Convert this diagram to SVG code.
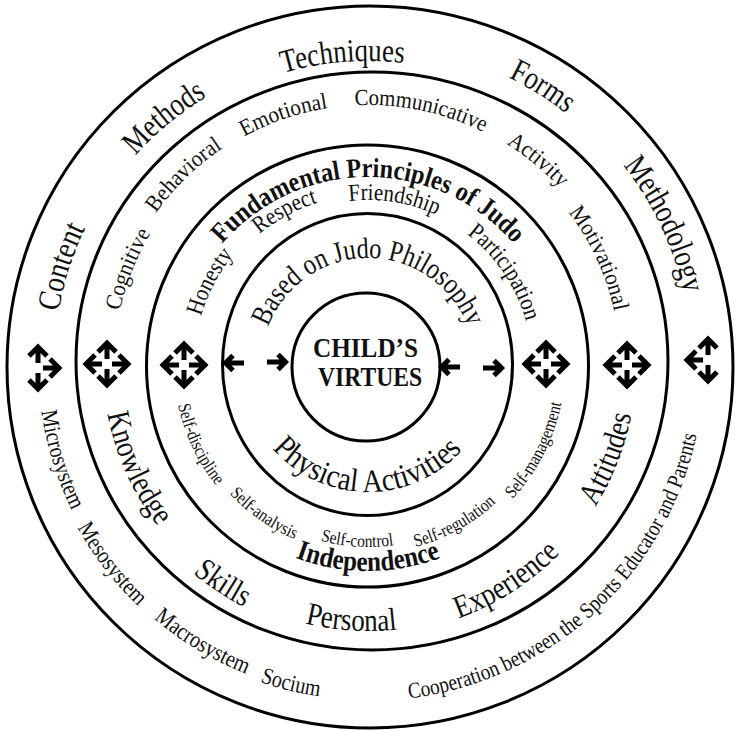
<svg xmlns="http://www.w3.org/2000/svg" xmlns:xlink="http://www.w3.org/1999/xlink" width="737" height="731" viewBox="0 0 737 731">
<style>
.ring{fill:none;stroke:#000;stroke-width:3}
.t{font-family:"Liberation Serif","Times New Roman",serif;fill:#111}
.b{font-weight:bold}
.f1{font-size:32.5px}
.f1b{font-size:23.5px}
.f2t{font-size:23px}
.f2b{font-size:32px}
.f3{font-size:24px}
.f3s{font-size:18px}
.f3b{font-size:27.5px}
.f4t{font-size:29.5px}
.f4b{font-size:32.5px}
.arr{fill:none;stroke:#000;stroke-width:5;stroke-linejoin:miter;stroke-linecap:butt}
</style>
<defs>
<path id="a-up" d="M-9,-12 L0,-21 L9,-12 M0,-20 V-5"/>
<g id="arrow4" class="arr">
<use xlink:href="#a-up"/>
<use xlink:href="#a-up" transform="rotate(90)"/>
<use xlink:href="#a-up" transform="rotate(180)"/>
<use xlink:href="#a-up" transform="rotate(270)"/>
</g>
<g id="arrow3r" class="arr">
<use xlink:href="#a-up"/>
<use xlink:href="#a-up" transform="rotate(90)"/>
<use xlink:href="#a-up" transform="rotate(180)"/>
</g>
<g id="arrow3l" class="arr">
<use xlink:href="#a-up"/>
<use xlink:href="#a-up" transform="rotate(180)"/>
<use xlink:href="#a-up" transform="rotate(270)"/>
</g>
<path id="a-left" class="arr" d="M-1,-7.5 L-8.5,0 L-1,7.5 M-8,0 H10"/>
<!-- top paths (clockwise, start at bottom) -->
<path id="pT304" d="M368,669 A304,304 0 0 1 368,61 A304,304 0 0 1 368,669"/>
<path id="pT313" d="M368,678 A313,313 0 0 1 368,52 A313,313 0 0 1 368,678"/>
<path id="pT314" d="M368,679 A314,314 0 0 1 368,51 A314,314 0 0 1 368,679"/>
<path id="pT320" d="M368,685 A320,320 0 0 1 368,45 A320,320 0 0 1 368,685"/>
<path id="pT324" d="M368,689 A324,324 0 0 1 368,41 A324,324 0 0 1 368,689"/>
<path id="pT254" d="M368,619 A254,254 0 0 1 368,111 A254,254 0 0 1 368,619"/>
<path id="pT261" d="M368,626 A261,261 0 0 1 368,104 A261,261 0 0 1 368,626"/>
<path id="pT260" d="M368,625 A260,260 0 0 1 368,105 A260,260 0 0 1 368,625"/>
<path id="pT252" d="M368,617 A252,252 0 0 1 368,113 A252,252 0 0 1 368,617"/>
<path id="pT192" d="M368,562 A192.5,192.5 0 0 1 368,177 A192.5,192.5 0 0 1 368,562"/>
<path id="pT174" d="M368,539 A174,174 0 0 1 368,191 A174,174 0 0 1 368,539"/>
<path id="pT170" d="M368,535 A170,170 0 0 1 368,195 A170,170 0 0 1 368,535"/>
<path id="pT165" d="M368,530 A165,165 0 0 1 368,200 A165,165 0 0 1 368,530"/>
<path id="pT164" d="M368,529 A164,164 0 0 1 368,201 A164,164 0 0 1 368,529"/>
<path id="pT107" d="M368,472 A107,107 0 0 1 368,258 A107,107 0 0 1 368,472"/>
<!-- bottom paths (counter-clockwise, start at top) -->
<path id="pB127" d="M368,238 A127,127 0 0 0 368,492 A127,127 0 0 0 368,238"/>
<path id="pB194" d="M368,171 A194,194 0 0 0 368,559 A194,194 0 0 0 368,171"/>
<path id="pB189" d="M368,176 A189,189 0 0 0 368,554 A189,189 0 0 0 368,176"/>
<path id="pB182" d="M368,183 A182,182 0 0 0 368,547 A182,182 0 0 0 368,183"/>
<path id="pB188" d="M368,177 A188,188 0 0 0 368,553 A188,188 0 0 0 368,177"/>
<path id="pB197" d="M368,168 A197,197 0 0 0 368,562 A197,197 0 0 0 368,168"/>
<path id="pB206" d="M368,159 A206,206 0 0 0 368,571 A206,206 0 0 0 368,159"/>
<path id="pB265" d="M368,100 A265,265 0 0 0 368,630 A265,265 0 0 0 368,100"/>
<path id="pB272" d="M368,93 A272,272 0 0 0 368,637 A272,272 0 0 0 368,93"/>
<path id="pB266" d="M368,99 A266,266 0 0 0 368,631 A266,266 0 0 0 368,99"/>
<path id="pB269" d="M368,96 A269,269 0 0 0 368,634 A269,269 0 0 0 368,96"/>
<path id="pB268" d="M368,97 A268,268 0 0 0 368,633 A268,268 0 0 0 368,97"/>
<path id="pB330" d="M368,35 A330,330 0 0 0 368,695 A330,330 0 0 0 368,35"/>
<path id="pB333" d="M368,32 A333,333 0 0 0 368,698 A333,333 0 0 0 368,32"/>
<path id="pB332" d="M368,33 A332,332 0 0 0 368,697 A332,332 0 0 0 368,33"/>
<path id="pB335" d="M368,30 A335,335 0 0 0 368,700 A335,335 0 0 0 368,30"/>
<path id="pB336" d="M368,29 A336,336 0 0 0 368,701 A336,336 0 0 0 368,29"/>
</defs>
<rect width="737" height="731" fill="#fff"/>

<g id="ring-outer">
<ellipse class="ring" cx="370" cy="367" rx="363" ry="361"/>
<text class="t f1"><textPath xlink:href="#pT304" startOffset="48.69%" text-anchor="middle" textLength="122" lengthAdjust="spacingAndGlyphs">Techniques</textPath></text>
<text class="t f1"><textPath xlink:href="#pT313" startOffset="39.03%" text-anchor="middle" textLength="93" lengthAdjust="spacingAndGlyphs">Methods</textPath></text>
<text class="t f1"><textPath xlink:href="#pT320" startOffset="58.92%" text-anchor="middle" textLength="68" lengthAdjust="spacingAndGlyphs">Forms</textPath></text>
<text class="t f1"><textPath xlink:href="#pT324" startOffset="67.94%" text-anchor="middle" textLength="143" lengthAdjust="spacingAndGlyphs">Methodology</textPath></text>
<text class="t f1"><textPath xlink:href="#pT314" startOffset="29.95%" text-anchor="middle" textLength="88" lengthAdjust="spacingAndGlyphs">Content</textPath></text>
<text class="t f1b"><textPath xlink:href="#pB330" startOffset="29.75%" text-anchor="middle" textLength="104" lengthAdjust="spacingAndGlyphs">Microsystem</textPath></text>
<text class="t f1b"><textPath xlink:href="#pB333" startOffset="35.5%" text-anchor="middle" textLength="100" lengthAdjust="spacingAndGlyphs">Mesosystem</textPath></text>
<text class="t f1b"><textPath xlink:href="#pB332" startOffset="41.42%" text-anchor="middle" textLength="108" lengthAdjust="spacingAndGlyphs">Macrosystem</textPath></text>
<text class="t f1b"><textPath xlink:href="#pB335" startOffset="46.22%" text-anchor="middle" textLength="61" lengthAdjust="spacingAndGlyphs">Socium</textPath></text>
<text class="t f1b" style="font-size:22.5px"><textPath xlink:href="#pB336" startOffset="61.81%" text-anchor="middle" textLength="416" lengthAdjust="spacingAndGlyphs">Cooperation between the Sports Educator and Parents</textPath></text>
</g>

<g id="ring-2">
<ellipse class="ring" cx="372" cy="361" rx="296" ry="289"/>
<text class="t f2t"><textPath xlink:href="#pT254" startOffset="31.06%" text-anchor="middle" textLength="84" lengthAdjust="spacingAndGlyphs">Cognitive</textPath></text>
<text class="t f2t"><textPath xlink:href="#pT261" startOffset="37.75%" text-anchor="middle" textLength="93.5" lengthAdjust="spacingAndGlyphs">Behavioral</textPath></text>
<text class="t f2t"><textPath xlink:href="#pT260" startOffset="44.81%" text-anchor="middle" textLength="89" lengthAdjust="spacingAndGlyphs">Emotional</textPath></text>
<text class="t f2t"><textPath xlink:href="#pT260" startOffset="53.25%" text-anchor="middle" textLength="133" lengthAdjust="spacingAndGlyphs">Communicative</textPath></text>
<text class="t f2t"><textPath xlink:href="#pT261" startOffset="61.03%" text-anchor="middle" textLength="70" lengthAdjust="spacingAndGlyphs">Activity</textPath></text>
<text class="t f2t"><textPath xlink:href="#pT252" startOffset="68.11%" text-anchor="middle" textLength="110" lengthAdjust="spacingAndGlyphs">Motivational</textPath></text>
<text class="t f2b"><textPath xlink:href="#pB265" startOffset="31.69%" text-anchor="middle" textLength="124.5" lengthAdjust="spacingAndGlyphs">Knowledge</textPath></text>
<text class="t f2b"><textPath xlink:href="#pB272" startOffset="40.67%" text-anchor="middle" textLength="61.5" lengthAdjust="spacingAndGlyphs">Skills</textPath></text>
<text class="t f2b"><textPath xlink:href="#pB266" startOffset="48.97%" text-anchor="middle" textLength="93" lengthAdjust="spacingAndGlyphs">Personal</textPath></text>
<text class="t f2b"><textPath xlink:href="#pB269" startOffset="59.06%" text-anchor="middle" textLength="121.5" lengthAdjust="spacingAndGlyphs">Experience</textPath></text>
<text class="t f2b"><textPath xlink:href="#pB268" startOffset="69.08%" text-anchor="middle" textLength="99" lengthAdjust="spacingAndGlyphs">Attitudes</textPath></text>
</g>

<g id="ring-3">
<circle class="ring" cx="367.5" cy="366" r="221"/>
<text class="t f3b b"><textPath xlink:href="#pT192" startOffset="50%" text-anchor="middle" textLength="331" lengthAdjust="spacingAndGlyphs">Fundamental Principles of Judo</textPath></text>
<text class="t f3"><textPath xlink:href="#pT174" startOffset="32.72%" text-anchor="middle" textLength="70" lengthAdjust="spacingAndGlyphs">Honesty</textPath></text>
<text class="t f3"><textPath xlink:href="#pT170" startOffset="42.08%" text-anchor="middle" textLength="66.5" lengthAdjust="spacingAndGlyphs">Respect</textPath></text>
<text class="t f3"><textPath xlink:href="#pT165" startOffset="52.5%" text-anchor="middle" textLength="90" lengthAdjust="spacingAndGlyphs">Friendship</textPath></text>
<text class="t f3"><textPath xlink:href="#pT164" startOffset="65.5%" text-anchor="middle" textLength="107" lengthAdjust="spacingAndGlyphs">Participation</textPath></text>
<text class="t f3s"><textPath xlink:href="#pB194" startOffset="32%" text-anchor="middle" textLength="90" lengthAdjust="spacingAndGlyphs">Self-discipline</textPath></text>
<text class="t f3s"><textPath xlink:href="#pB189" startOffset="40.28%" text-anchor="middle" textLength="80" lengthAdjust="spacingAndGlyphs">Self-analysis</textPath></text>
<text class="t f3s"><textPath xlink:href="#pB182" startOffset="49.03%" text-anchor="middle" textLength="74" lengthAdjust="spacingAndGlyphs">Self-control</textPath></text>
<text class="t f3s"><textPath xlink:href="#pB188" startOffset="58%" text-anchor="middle" textLength="93" lengthAdjust="spacingAndGlyphs">Self-regulation</textPath></text>
<text class="t f3s"><textPath xlink:href="#pB197" startOffset="67.5%" text-anchor="middle" textLength="109" lengthAdjust="spacingAndGlyphs">Self-management</textPath></text>
<text class="t f3b b" style="font-size:28.5px"><textPath xlink:href="#pB206" startOffset="50%" text-anchor="middle" textLength="148.5" lengthAdjust="spacingAndGlyphs">Independence</textPath></text>
</g>

<g id="ring-4">
<ellipse class="ring" cx="367.5" cy="364.5" rx="145" ry="151"/>
<text class="t f4t"><textPath xlink:href="#pT107" startOffset="50%" text-anchor="middle" textLength="258" lengthAdjust="spacingAndGlyphs">Based on Judo Philosophy</textPath></text>
<text class="t f4b"><textPath xlink:href="#pB127" startOffset="49.86%" text-anchor="middle" textLength="215" lengthAdjust="spacingAndGlyphs">Physical Activities</textPath></text>
</g>

<g id="center">
<circle class="ring" cx="366" cy="367" r="74"/>
<text class="t b" font-size="28" x="365.5" y="357" text-anchor="middle" textLength="105" lengthAdjust="spacingAndGlyphs">CHILD’S</text>
<text class="t b" font-size="28" x="370" y="386" text-anchor="middle" textLength="104" lengthAdjust="spacingAndGlyphs">VIRTUES</text>
</g>

<g id="connectors">
<use xlink:href="#arrow3r" x="38" y="368"/>
<use xlink:href="#arrow4" x="107" y="364"/>
<use xlink:href="#arrow4" x="184" y="365"/>
<use xlink:href="#a-left" transform="translate(234,363)"/>
<use xlink:href="#a-left" transform="translate(277,362) rotate(180)"/>
<use xlink:href="#a-left" transform="translate(450,367)"/>
<use xlink:href="#a-left" transform="translate(493,368) rotate(180)"/>
<use xlink:href="#arrow4" x="546" y="364"/>
<use xlink:href="#arrow4" x="627" y="365"/>
<use xlink:href="#arrow3l" x="708" y="360"/>
</g>
</svg>
